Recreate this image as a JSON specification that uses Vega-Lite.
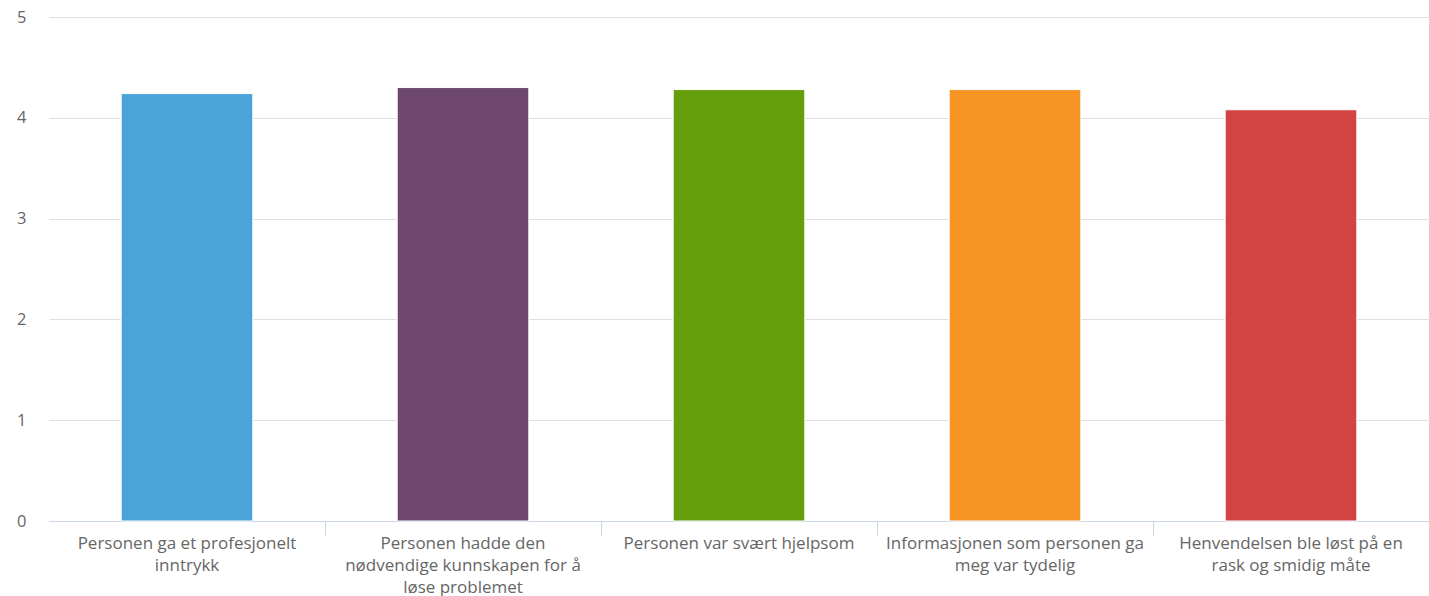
{
  "$schema": "https://vega.github.io/schema/vega-lite/v6.json",
  "autosize": "none",
  "width": 1380,
  "height": 504,
  "padding": {"left": 49, "top": 17, "right": 0, "bottom": 75},
  "background": "white",
  "config": {"view": {"stroke": null}, "font": "Open Sans"},
  "data": {
    "values": [
      {"question": "Personen ga et profesjonelt inntrykk", "score": 4.24, "order": 1},
      {"question": "Personen hadde den nødvendige kunnskapen for å løse problemet", "score": 4.30, "order": 2},
      {"question": "Personen var svært hjelpsom", "score": 4.28, "order": 3},
      {"question": "Informasjonen som personen ga meg var tydelig", "score": 4.28, "order": 4},
      {"question": "Henvendelsen ble løst på en rask og smidig måte", "score": 4.08, "order": 5}
    ]
  },
  "mark": {"type": "bar", "stroke": "white", "strokeWidth": 1, "width": {"band": 0.477}},
  "encoding": {
    "x": {
      "field": "question",
      "type": "nominal",
      "sort": {"field": "order"},
      "scale": {"paddingInner": 0, "paddingOuter": 0},
      "axis": {
        "title": null,
        "labelAngle": 0,
        "bandPosition": 0,
        "domainColor": "#ccd6eb",
        "tickColor": {"condition": {"test": "datum.index == 0", "value": "transparent"}, "value": "#ccd6eb"},
        "tickSize": 14,
        "labelPadding": 0,
        "labelFontSize": 17,
        "labelColor": "#666666",
        "labelLineHeight": 22,
        "labelBaseline": "top",
        "labelLimit": 300,
        "labelExpr": "datum.value == 'Personen ga et profesjonelt inntrykk' ? ['Personen ga et profesjonelt', 'inntrykk'] : datum.value == 'Personen hadde den nødvendige kunnskapen for å løse problemet' ? ['Personen hadde den', 'nødvendige kunnskapen for å', 'løse problemet'] : datum.value == 'Informasjonen som personen ga meg var tydelig' ? ['Informasjonen som personen ga', 'meg var tydelig'] : datum.value == 'Henvendelsen ble løst på en rask og smidig måte' ? ['Henvendelsen ble løst på en', 'rask og smidig måte'] : datum.value"
      }
    },
    "y": {
      "field": "score",
      "type": "quantitative",
      "scale": {"domain": [0, 5], "nice": false},
      "axis": {
        "title": null,
        "values": [0, 1, 2, 3, 4, 5],
        "domain": false,
        "ticks": false,
        "labelPadding": 23,
        "labelFontSize": 16.5,
        "labelColor": "#666666",
        "gridColor": "#e0e0e0",
        "gridWidth": 1
      }
    },
    "color": {
      "field": "question",
      "type": "nominal",
      "sort": {"field": "order"},
      "scale": {"range": ["#4aa4d9", "#6d4770", "#649e0b", "#f59422", "#d24444"]},
      "legend": null
    }
  }
}
